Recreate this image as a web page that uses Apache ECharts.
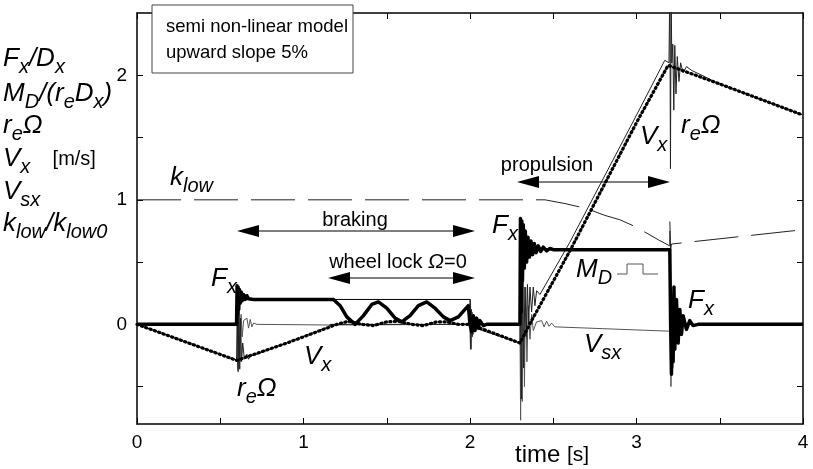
<!DOCTYPE html>
<html><head><meta charset="utf-8">
<script src="https://cdn.jsdelivr.net/npm/echarts@6/dist/echarts.min.js"></script>
<style>html,body{margin:0;padding:0;background:#fff}#c{width:813px;height:469px}</style>
</head><body><div id="c"></div>
<script>
// ---- tick values ----
const xTickValues = [0, 0.5, 1, 1.5, 2, 2.5, 3, 3.5, 4];
const xTickLabels = [0, 1, 2, 3, 4];
const yTickValues = [-0.5, 0, 0.5, 1, 1.5, 2];
const yTickLabels = [0, 1, 2];

// ---- series: [time s, value] ----
const fxData = [[0,0],[0.598,0],[0.601,0.31],[0.604,0.08],[0.607,0.3],[0.611,0.12],[0.615,0.28],[0.62,0.17],[0.626,0.26],[0.632,0.19],[0.64,0.24],[0.65,0.2],[0.66,0.23],[0.67,0.205],[0.68,0.22],[0.7,0.2],
 [1.18,0.2],[1.22,0.15],[1.26,0.06],[1.31,0.0],[1.36,0.07],[1.41,0.16],[1.45,0.18],[1.5,0.13],[1.55,0.05],[1.59,0.02],[1.64,0.07],[1.69,0.15],[1.74,0.18],[1.79,0.13],[1.84,0.06],[1.88,0.03],[1.93,0.06],[1.99,0.15],
 [2.0,0.0],[2.01,-0.06],[2.02,0.07],[2.03,-0.05],[2.04,0.05],[2.05,-0.03],[2.06,0.03],[2.08,-0.01],[2.1,0],[2.3,0],
 [2.303,0.85],[2.307,0.1],[2.311,0.83],[2.315,0.35],[2.32,0.8],[2.326,0.45],[2.332,0.75],[2.34,0.5],[2.348,0.7],[2.357,0.54],[2.366,0.67],[2.376,0.56],[2.386,0.65],[2.397,0.575],[2.41,0.63],[2.425,0.585],[2.44,0.62],[2.46,0.59],[2.48,0.61],[2.5,0.6],
 [3.2,0.6],[3.205,0],[3.21,-0.4],[3.215,0.1],[3.22,-0.3],[3.225,0.3],[3.23,-0.2],[3.24,0.2],[3.25,-0.15],[3.26,0.12],[3.27,-0.08],[3.28,0.07],[3.3,-0.04],[3.32,0.03],[3.34,-0.01],[3.37,0],[4,0]];

const mdData = [[0,0],[0.6,0],[0.6,0.2],[2.0,0.2],[2.0,0],[2.3,0],[2.3,0.6],[3.2,0.6],[3.2,0],[4,0]];

const vxData = [[0,0],[0.6,-0.29],[0.65,-0.265],[0.9,-0.15],[1.1,-0.05],[1.2,0.0],[1.27,0.025],[1.35,0.0],[1.42,-0.01],[1.5,0.02],[1.57,0.025],[1.65,0.0],[1.72,-0.01],[1.8,0.02],[1.86,0.02],[1.93,0.0],[2.0,0.0],
 [2.3,-0.15],[2.37,0.03],[2.6,0.59],[3.0,1.62],[3.19,2.08],[3.5,1.93],[4,1.68]];

const reOmegaData = [[0,0],[0.598,-0.288],[0.602,0.15],[0.607,-0.38],[0.612,0.12],[0.617,-0.36],[0.622,0.05],[0.628,-0.3],[0.635,-0.15],[0.645,-0.28],[0.66,-0.24],[0.67,-0.28],[0.68,-0.25],[0.69,-0.265],[0.7,-0.25],[1.15,-0.02],[1.16,0],
 [2.0,0],[2.003,-0.2],[2.008,0.12],[2.013,-0.1],[2.02,0.02],[2.03,-0.03],[2.04,-0.02],[2.3,-0.15],
 [2.303,0.25],[2.308,-0.6],[2.315,0.35],[2.322,-0.35],[2.33,0.3],[2.338,-0.1],[2.345,0.32],[2.352,0.0],[2.36,0.3],[2.37,0.1],[2.38,0.3],[2.39,0.15],[2.4,0.27],[2.42,0.24],[2.6,0.66],[3.0,1.68],[3.17,2.12],[3.195,2.1],
 [3.2,2.7],[3.204,1.25],[3.208,2.7],[3.212,2.1],[3.218,2.25],[3.224,1.72],[3.23,2.24],[3.237,1.85],[3.245,2.15],[3.255,1.95],[3.265,2.1],[3.28,2.02],[3.3,2.07],[3.33,2.04],[3.5,1.93],[4,1.68]];

const vsxData = [[0,0],[0.598,0],[0.602,0.18],[0.607,-0.36],[0.612,0.16],[0.618,-0.3],[0.625,0.08],[0.632,-0.1],[0.64,0.03],[0.66,0.05],[0.67,-0.03],[0.68,0.04],[0.69,-0.02],[0.7,0.01],[0.72,0],[1.15,-0.005],
 [2.0,0],[2.003,0.2],[2.008,-0.2],[2.013,0.1],[2.02,-0.08],[2.03,0.03],[2.04,-0.02],[2.06,0.01],[2.08,0],[2.3,0],
 [2.304,-0.77],[2.309,0.55],[2.314,-0.62],[2.32,0.45],[2.327,-0.5],[2.334,0.3],[2.342,-0.3],[2.35,0.15],[2.36,-0.12],[2.37,0.08],[2.38,-0.05],[2.4,0.02],[2.43,0.03],[2.445,-0.02],[2.46,0.025],[2.475,-0.015],[2.49,0.01],[2.51,-0.02],
 [3.2,-0.055],[3.203,0.3],[3.207,-0.5],[3.212,0.25],[3.218,-0.35],[3.225,0.15],[3.233,-0.15],[3.242,0.08],[3.252,-0.05],[3.265,0.02],[3.28,0],[4,0]];

const klowData = [[0,1],[2.45,1.0],[2.57,0.97],[2.7,0.93],[2.81,0.875],[2.9,0.84],[3.0,0.78],[3.13,0.68],[3.2,0.63],[3.2,0.84],[3.205,0.6],[3.21,0.645],[4,0.76]];

const FONT = '"Liberation Sans", Arial, Helvetica, sans-serif';
const chart = echarts.init(document.getElementById('c'), null, {renderer:'canvas'});

const R = {
  m: {fontSize:26, fontStyle:'italic', fontFamily:FONT, fill:'#000', lineHeight:30, verticalAlign:'middle'},
  s: {fontSize:20, fontStyle:'italic', fontFamily:FONT, fill:'#000', lineHeight:36, verticalAlign:'bottom'},
  n: {fontSize:20, fontFamily:FONT, fill:'#000', lineHeight:24, verticalAlign:'middle'}
};
function lab(x, base, parts) {
  const text = parts.map(p => '{' + p[1] + '|' + p[0] + '}').join('');
  return {type:'text', x:x, y:base-27, z:60, style:{text:text, rich:R, align:'left', verticalAlign:'top', fontFamily:FONT, fontSize:26}};
}
function plain(cx, cy, text, size, align) {
  return {type:'text', x:cx, y:cy, z:60, style:{text:text, fontFamily:FONT, fontSize:size, fill:'#000', align:align||'center', verticalAlign:'middle'}};
}
function arrow(x1, x2, y) {
  const L = 22, H = 6;
  return [
    {type:'line', z:55, shape:{x1:x1+L, y1:y, x2:x2-L, y2:y}, style:{stroke:'#000', lineWidth:1}},
    {type:'polygon', z:55, shape:{points:[[x1,y],[x1+L,y-H],[x1+L,y+H]]}, style:{fill:'#000'}},
    {type:'polygon', z:55, shape:{points:[[x2,y],[x2-L,y-H],[x2-L,y+H]]}, style:{fill:'#000'}}
  ];
}

const graphic = [
  {type:'rect', z:70, shape:{x:152, y:5, width:201, height:68}, style:{fill:'#fff', stroke:'#444', lineWidth:1}},
  {type:'text', z:71, x:166, y:27, style:{text:'semi non-linear model', fontFamily:FONT, fontSize:18.5, fill:'#000', align:'left', verticalAlign:'middle'}},
  {type:'text', z:71, x:166, y:53, style:{text:'upward slope 5%', fontFamily:FONT, fontSize:18.5, fill:'#000', align:'left', verticalAlign:'middle'}},
  // left axis title
  lab(3, 68, [['F','m'],['x','s'],['/D','m'],['x','s']]),
  lab(3, 103, [['M','m'],['D','s'],['/(r','m'],['e','s'],['D','m'],['x','s'],[')','m']]),
  lab(3, 135, [['r','m'],['e','s'],['Ω','m']]),
  lab(3, 168, [['V','m'],['x','s'],['    [m/s]','n']]),
  lab(3, 201, [['V','m'],['sx','s']]),
  lab(3, 233, [['k','m'],['low','s'],['/k','m'],['low0','s']]),
  // in-plot labels
  lab(170, 187, [['k','m'],['low','s']]),
  lab(211, 288, [['F','m'],['x','s']]),
  lab(492, 235, [['F','m'],['x','s']]),
  lab(688, 310, [['F','m'],['x','s']]),
  lab(304, 366, [['V','m'],['x','s']]),
  lab(640, 146, [['V','m'],['x','s']]),
  lab(237, 398, [['r','m'],['e','s'],['Ω','m']]),
  lab(681, 135, [['r','m'],['e','s'],['Ω','m']]),
  lab(576, 279, [['M','m'],['D','s']]),
  lab(584, 354, [['V','m'],['sx','s']]),
  {type:'polyline', z:55, shape:{points:[[617,274],[627,274],[627,264],[643,264],[643,274],[658,274]]}, style:{stroke:'#555', lineWidth:1, fill:null}},
  plain(355, 220, 'braking', 20),
  {type:'text', z:60, x:398, y:262, style:{text:'{a|wheel lock }{b|Ω}{a|=0}', align:'center', verticalAlign:'middle', fontFamily:FONT, fontSize:20,
     rich:{a:{fontFamily:FONT, fontSize:20, fill:'#000'}, b:{fontFamily:FONT, fontSize:21, fontStyle:'italic', fill:'#000'}}}},
  plain(547, 165, 'propulsion', 20),
  {type:'text', z:60, x:515, y:455, style:{text:'{a|time }{b|[s]}', align:'left', verticalAlign:'middle', fontFamily:FONT, fontSize:23,
     rich:{a:{fontFamily:FONT, fontSize:24, fill:'#000'}, b:{fontFamily:FONT, fontSize:21, fill:'#000'}}}}
].concat(arrow(237, 475, 231), arrow(328, 475, 278), arrow(517, 670, 182));

const axisLineStyle = {color:'#000', width:1.5};
function xAx(pos, showLabel) {
  return {type:'value', min:0, max:4, position:pos,
    axisLine:{show:true, onZero:false, lineStyle:axisLineStyle},
    axisTick:{show:true, inside:true, length:6, customValues:xTickValues, lineStyle:{color:'#000', width:1}},
    axisLabel:{show:showLabel, customValues:xTickLabels, fontFamily:FONT, fontSize:19, color:'#000', margin:9},
    splitLine:{show:false}};
}
function yAx(pos, showLabel) {
  return {type:'value', min:-0.8, max:2.5, position:pos,
    axisLine:{show:true, onZero:false, lineStyle:axisLineStyle},
    axisTick:{show:true, inside:true, length:6, customValues:yTickValues, lineStyle:{color:'#000', width:1}},
    axisLabel:{show:showLabel, customValues:yTickLabels, fontFamily:FONT, fontSize:19, color:'#000', margin:10},
    splitLine:{show:false}};
}
function ln(data, style, z) {
  return {type:'line', data:data, showSymbol:false, symbol:'none', clip:true, z:z, lineStyle:style, silent:true};
}

chart.setOption({
  animation:false,
  backgroundColor:'#fff',
  grid:{left:137, right:10, top:13, bottom:45},
  xAxis:[xAx('bottom', true), xAx('top', false)],
  yAxis:[yAx('left', true), yAx('right', false)],
  series:[
    ln(klowData, {color:'#222', width:1, type:[44,13]}, 2),
    ln(vsxData, {color:'#555', width:1}, 3),
    ln(reOmegaData, {color:'#222', width:1}, 4),
    ln(mdData, {color:'#000', width:1}, 5),
    ln(vxData, {color:'#000', width:3.2, type:[1.2,3.4], cap:'round'}, 6),
    ln(fxData, {color:'#000', width:3.5, join:'round'}, 7)
  ],
  graphic: graphic
});
</script></body></html>
